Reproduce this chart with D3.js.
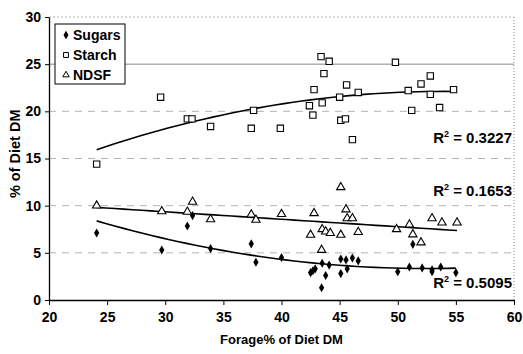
<!DOCTYPE html>
<html>
<head>
<meta charset="utf-8">
<script src="https://cdn.jsdelivr.net/npm/d3@7"></script>
<style>
  body { margin: 0; background: #fff; }
  svg { font-family: "Liberation Sans", Arial, sans-serif; font-weight: bold; }
</style>
</head>
<body>
<svg id="chart"></svg>
<script>
// forage % of diet DM vs sugars / starch / NDSF (% of diet DM)
const sugarsX = [24.1, 29.7, 31.9, 32.35, 33.9, 37.4, 37.8, 40.0, 42.5, 42.7, 42.9, 43.45, 43.5, 43.8, 44.1, 45.1, 45.1, 45.55, 45.65, 46.1, 46.6, 50.0, 51.0, 51.3, 52.1, 52.95, 52.95, 53.7, 55.0];
const sugarsY = [7.1, 5.3, 7.85, 8.95, 5.45, 5.95, 4.0, 4.5, 2.9, 3.1, 3.3, 1.3, 3.9, 2.6, 3.7, 4.35, 2.8, 4.25, 3.3, 4.45, 4.15, 3.0, 3.5, 5.9, 3.4, 3.0, 3.2, 3.5, 2.9];

const starchX = [24.1, 29.6, 31.9, 32.3, 33.9, 37.4, 37.6, 39.9, 42.4, 42.7, 42.8, 43.4, 43.5, 43.65, 44.1, 45.0, 45.1, 45.5, 45.6, 46.1, 46.6, 49.8, 50.9, 51.2, 52.0, 52.8, 52.8, 53.6, 54.8];
const starchY = [14.4, 21.5, 19.2, 19.2, 18.4, 18.2, 20.1, 18.2, 20.6, 19.6, 22.3, 25.8, 20.9, 24.0, 25.3, 21.5, 19.05, 19.2, 22.8, 17.0, 22.0, 25.2, 22.2, 20.1, 22.9, 23.75, 21.8, 20.4, 22.3];

const ndsfX = [24.1, 29.7, 31.9, 32.35, 33.9, 37.4, 37.8, 40.0, 42.5, 42.8, 43.45, 43.5, 43.8, 44.2, 45.1, 45.1, 45.55, 45.65, 46.1, 46.6, 49.9, 51.0, 51.3, 52.0, 52.95, 53.8, 55.1];
const ndsfY = [10.0, 9.4, 9.35, 10.4, 8.55, 9.05, 8.5, 9.1, 6.9, 9.2, 5.3, 7.5, 7.25, 7.1, 6.9, 11.95, 9.6, 8.65, 8.65, 7.2, 7.5, 8.0, 6.95, 6.1, 8.65, 8.2, 8.2];

const seriesNames = ["Sugars", "Starch", "NDSF"];
const rSquared = ["0.5095", "0.3227", "0.1653"];
const trendOrder = [2, 2, 1];
const xTicks = [20, 25, 30, 35, 40, 45, 50, 55, 60];
const yTicks = [0, 5, 10, 15, 20, 25, 30];

const width = 523, height = 354;
const margin = { top: 17, right: 9, bottom: 54, left: 49 };

const svg = d3.select('#chart')
  .attr('width', width)
  .attr('height', height);

const x = d3.scaleLinear().domain([20, 60]).range([margin.left, width - margin.right]);
const y = d3.scaleLinear().domain([0, 30]).range([height - margin.bottom, margin.top]);

// gridlines (scanned look: light broken lines, the 25 line is solid)
svg.append('g')
  .selectAll('line')
  .data(yTicks.filter(d => d > 0))
  .enter()
  .append('line')
  .attr('x1', x(20))
  .attr('x2', x(60))
  .attr('y1', d => y(d))
  .attr('y2', d => y(d))
  .attr('stroke', d => d === 25 ? '#888' : '#b4b4b4')
  .attr('stroke-width', 1)
  .attr('stroke-dasharray', d => d === 25 ? null : (d === 30 ? '2,2' : '7,6'));

// right border (dotted)
svg.append('line')
  .attr('x1', x(60)).attr('x2', x(60))
  .attr('y1', y(30)).attr('y2', y(0))
  .attr('stroke', '#888')
  .attr('stroke-dasharray', '1,2');

// axes
const xAxis = svg.append('g')
  .attr('transform', `translate(0,${y(0)})`)
  .call(d3.axisBottom(x).tickValues(xTicks).tickSize(5).tickPadding(7).tickSizeOuter(0));
const yAxis = svg.append('g')
  .attr('transform', `translate(${x(20)},0)`)
  .call(d3.axisLeft(y).tickValues(yTicks).tickSize(4).tickPadding(4).tickSizeOuter(0));

[xAxis, yAxis].forEach(g => {
  g.select('.domain').attr('stroke', '#000').attr('stroke-width', 1.3);
  g.selectAll('.tick line').attr('stroke', '#000');
  g.selectAll('.tick text')
    .attr('fill', '#000')
    .style('font-size', '14px')
    .style('font-family', '"Liberation Sans", Arial, sans-serif')
    .style('font-weight', 'bold');
});

// axis titles
svg.append('text')
  .attr('x', (x(20) + x(60)) / 2)
  .attr('y', 344)
  .attr('text-anchor', 'middle')
  .style('font-size', '13px')
  .text('Forage% of Diet DM');

svg.append('text')
  .attr('transform', `translate(20,${y(15.5)}) rotate(-90)`)
  .attr('text-anchor', 'middle')
  .style('font-size', '14.5px')
  .text('% of Diet DM');

// least squares polynomial trend (like the spreadsheet trendline)
function polyFit(xs, ys, order) {
  const n = order + 1;
  const A = d3.range(n).map(() => d3.range(n + 1).map(() => 0));
  xs.forEach((xv, i) => {
    for (let r = 0; r < n; r++) {
      for (let c = 0; c < n; c++) A[r][c] += Math.pow(xv, r + c);
      A[r][n] += Math.pow(xv, r) * ys[i];
    }
  });
  for (let i = 0; i < n; i++) {
    for (let j = i + 1; j < n; j++) {
      const f = A[j][i] / A[i][i];
      for (let k = i; k <= n; k++) A[j][k] -= f * A[i][k];
    }
  }
  const c = d3.range(n).map(() => 0);
  for (let i = n - 1; i >= 0; i--) {
    let v = A[i][n];
    for (let k = i + 1; k < n; k++) v -= A[i][k] * c[k];
    c[i] = v / A[i][i];
  }
  return xv => d3.sum(c, (ci, k) => ci * Math.pow(xv, k));
}

const series = [
  { name: seriesNames[0], xs: sugarsX, ys: sugarsY, r2: rSquared[0], order: trendOrder[0] },
  { name: seriesNames[1], xs: starchX, ys: starchY, r2: rSquared[1], order: trendOrder[1] },
  { name: seriesNames[2], xs: ndsfX, ys: ndsfY, r2: rSquared[2], order: trendOrder[2] }
];

const line = d3.line().x(d => x(d[0])).y(d => y(d[1]));

series.forEach(s => {
  const f = polyFit(s.xs, s.ys, s.order);
  const [lo, hi] = d3.extent(s.xs);
  const pts = d3.range(0, 41).map(i => {
    const xv = lo + (hi - lo) * i / 40;
    return [xv, f(xv)];
  });
  svg.append('path')
    .datum(pts)
    .attr('d', line)
    .attr('fill', 'none')
    .attr('stroke', '#000')
    .attr('stroke-width', 1.6);
});

// markers
const diamond = d3.symbol().type(d3.symbolDiamond).size(24);
const square = d3.symbol().type(d3.symbolSquare).size(40);
const triangle = d3.symbol().type(d3.symbolTriangle).size(30);

svg.append('g').selectAll('path')
  .data(d3.zip(starchX, starchY))
  .enter()
  .append('path')
  .attr('d', square)
  .attr('transform', d => `translate(${x(d[0])},${y(d[1])})`)
  .attr('fill', '#fff')
  .attr('stroke', '#000')
  .attr('stroke-width', 1.1);

svg.append('g').selectAll('path')
  .data(d3.zip(ndsfX, ndsfY))
  .enter()
  .append('path')
  .attr('d', triangle)
  .attr('transform', d => `translate(${x(d[0])},${y(d[1])})`)
  .attr('fill', '#fff')
  .attr('stroke', '#000')
  .attr('stroke-width', 1.1);

svg.append('g').selectAll('path')
  .data(d3.zip(sugarsX, sugarsY))
  .enter()
  .append('path')
  .attr('d', diamond)
  .attr('transform', d => `translate(${x(d[0])},${y(d[1])})`)
  .attr('fill', '#000');

// R squared labels
const r2Pos = [[x(60) - 2, y(1.3)], [x(60) - 2, y(16.6)], [x(60) - 2, y(11.0)]];
series.forEach((s, i) => {
  const t = svg.append('text')
    .attr('x', r2Pos[i][0])
    .attr('y', r2Pos[i][1])
    .attr('text-anchor', 'end')
    .style('font-size', '15px');
  t.append('tspan').text('R');
  t.append('tspan').attr('dy', -6).style('font-size', '9px').text('2');
  t.append('tspan').attr('dy', 6).text(' = ' + s.r2);
});

// legend
const legend = svg.append('g').attr('transform', 'translate(55,24)');
legend.append('rect')
  .attr('width', 70).attr('height', 60)
  .attr('fill', '#fff').attr('stroke', '#000');
const legendSym = [d3.symbol().type(d3.symbolDiamond).size(14), d3.symbol().type(d3.symbolSquare).size(24), d3.symbol().type(d3.symbolTriangle).size(18)];
seriesNames.forEach((n, i) => {
  legend.append('path')
    .attr('d', legendSym[i])
    .attr('transform', `translate(11,${11 + i * 20})`)
    .attr('fill', i === 0 ? '#000' : '#fff')
    .attr('stroke', '#000');
  legend.append('text')
    .attr('x', 18)
    .attr('y', 16 + i * 20)
    .style('font-size', '14px')
    .text(n);
});
</script>
</body>
</html>
